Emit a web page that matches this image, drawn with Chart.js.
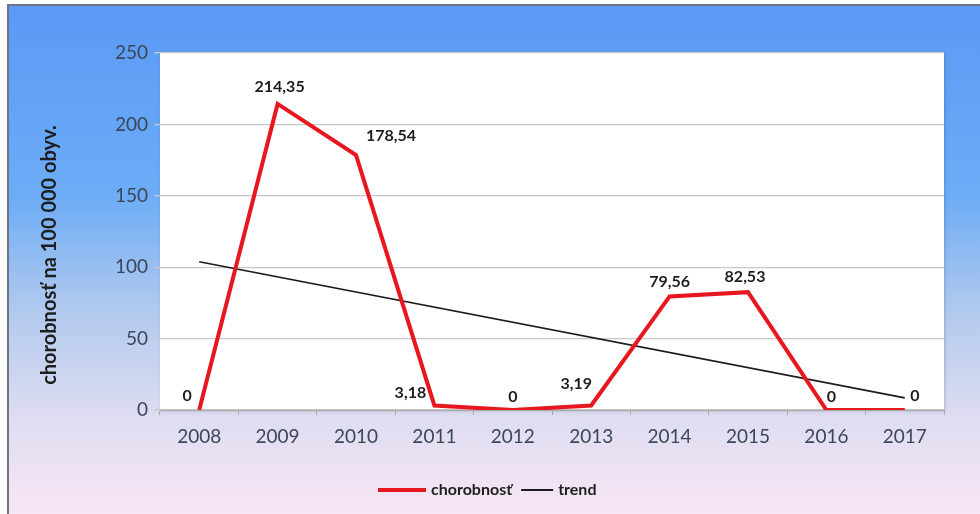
<!DOCTYPE html>
<html>
<head>
<meta charset="utf-8">
<script src="https://cdn.jsdelivr.net/npm/chart.js@4.4.1/dist/chart.umd.min.js"></script>
<style>
    html, body {margin: 0; padding: 0; background: #fff;}
    #wrap {width: 980px; height: 514px; position: relative;}
</style>
</head>
<body>
<div id="wrap"><canvas id="graph" width="980" height="514"></canvas></div>
<script>
const years = ["2008", "2009", "2010", "2011", "2012", "2013", "2014", "2015", "2016", "2017"];
const chorobnost = [0, 214.35, 178.54, 3.18, 0, 3.19, 79.56, 82.53, 0, 0];
// trend: only the two end points, straight line between
const trend = [103.8, null, null, null, null, null, null, null, null, 8.5];
const yTicks = [0, 50, 100, 150, 200, 250];
const yTitle = "chorobnosť na 100 000 obyv.";

const fontFamily = "Lato, 'Open Sans', sans-serif";
const textColor = "#3b4658";

// where each label sits relative to its point (dx, dy)
const labelOffsets = [[-12, -14], [2, -17], [35, -19], [-24, -13], [0, -13], [-15, -22], [0, -15], [-3, -15], [5, -13], [10, -14]];

const formatValue = v => String(v).replace(".", ",");

const backgroundPlugin = {
    id: "background",
    beforeDraw(chart) {
        const {ctx, width, height, chartArea} = chart;
        ctx.save();
        const grad = ctx.createLinearGradient(0, 0, 0, height);
        grad.addColorStop(0, "#5a99f5");
        grad.addColorStop(0.38, "#6cacf6");
        grad.addColorStop(0.6, "#b0c9ee");
        grad.addColorStop(0.8, "#dcdcf1");
        grad.addColorStop(1, "#f8e6f4");
        ctx.fillStyle = grad;
        ctx.fillRect(0, 0, width, height);
        // frame at the top and left
        ctx.fillStyle = "#6e7480";
        ctx.fillRect(0, 4, width, 2);
        ctx.fillRect(7, 4, 2, height);
        ctx.fillStyle = "#ffffff";
        ctx.fillRect(0, 0, width, 4);
        ctx.fillRect(0, 0, 7, height);
        // plot area
        ctx.shadowColor = "rgba(0,0,0,0.18)";
        ctx.shadowBlur = 3;
        ctx.shadowOffsetX = 1;
        ctx.shadowOffsetY = 1;
        ctx.fillStyle = "#ffffff";
        ctx.fillRect(chartArea.left, chartArea.top, chartArea.right - chartArea.left, chartArea.bottom - chartArea.top);
        ctx.restore();

        // y axis title
        ctx.save();
        ctx.translate(50, 255);
        ctx.rotate(-Math.PI / 2);
        ctx.font = "bold 20px " + fontFamily;
        ctx.fillStyle = "#1e1e1e";
        ctx.textAlign = "center";
        ctx.textBaseline = "middle";
        ctx.fillText(yTitle, 0, 0);
        ctx.restore();
    }
};

const valueLabels = {
    id: "valueLabels",
    afterDatasetsDraw(chart) {
        const {ctx} = chart;
        const meta = chart.getDatasetMeta(0);
        ctx.save();
        ctx.font = "bold 16px " + fontFamily;
        ctx.fillStyle = "#1e1e1e";
        ctx.textAlign = "center";
        ctx.textBaseline = "middle";
        meta.data.forEach((pt, i) => {
            const [dx, dy] = labelOffsets[i];
            ctx.fillText(formatValue(chorobnost[i]), pt.x + dx, pt.y + dy);
        });
        ctx.restore();
    }
};

// legend drawn by hand: line swatch right next to the text, like the original
const lineLegend = {
    id: "lineLegend",
    afterDraw(chart) {
        const {ctx} = chart;
        const swatches = [48, 32];
        const y = 490;
        ctx.save();
        ctx.font = "bold 16px " + fontFamily;
        ctx.textBaseline = "middle";
        ctx.textAlign = "left";
        let x = 378;
        chart.data.datasets.forEach((ds, i) => {
            ctx.strokeStyle = ds.borderColor;
            ctx.lineWidth = i === 0 ? 4 : 2;
            ctx.beginPath();
            ctx.moveTo(x, y);
            ctx.lineTo(x + swatches[i], y);
            ctx.stroke();
            x += swatches[i] + 5;
            ctx.fillStyle = "#1e1e1e";
            ctx.fillText(ds.label, x, y);
            x += ctx.measureText(ds.label).width + 9;
        });
        ctx.restore();
    }
};

const canvas = document.querySelector("#graph");
const chart = new Chart(canvas, {
    type: "line",
    data: {
        labels: years,
        datasets: [
            {
                label: "chorobnosť",
                data: chorobnost,
                borderColor: "#e8161e",
                backgroundColor: "#e8161e",
                borderWidth: 4,
                pointRadius: 0,
                tension: 0,
                borderJoinStyle: "miter"
            },
            {
                label: "trend",
                data: trend,
                borderColor: "#1c1c1c",
                backgroundColor: "#2a2a2a",
                borderWidth: 1.6,
                pointRadius: 0,
                spanGaps: true
            }
        ]
    },
    options: {
        responsive: false,
        animation: false,
        devicePixelRatio: 1,
        layout: {padding: {left: 38, right: 36, top: 53, bottom: 50}},
        plugins: {
            legend: {display: false},
            tooltip: {enabled: false}
        },
        scales: {
            x: {
                offset: true,
                grid: {
                    offset: true,
                    display: true,
                    drawOnChartArea: false,
                    drawTicks: true,
                    tickLength: 5,
                    color: "#a9a9a9"
                },
                border: {color: "#a9a9a9"},
                ticks: {color: textColor, font: {family: fontFamily, size: 19}, padding: 10},
                afterFit: scale => { scale.height = 54; }
            },
            y: {
                min: 0,
                max: 250,
                afterBuildTicks: scale => { scale.ticks = yTicks.map(v => ({value: v})); },
                grid: {color: "#c8c8c8", tickLength: 6, lineWidth: 1.3},
                border: {display: false},
                ticks: {color: textColor, font: {family: fontFamily, size: 19}, padding: 6},
                afterFit: scale => { scale.width = 122; }
            }
        }
    },
    plugins: [backgroundPlugin, valueLabels, lineLegend]
});
</script>
</body>
</html>
